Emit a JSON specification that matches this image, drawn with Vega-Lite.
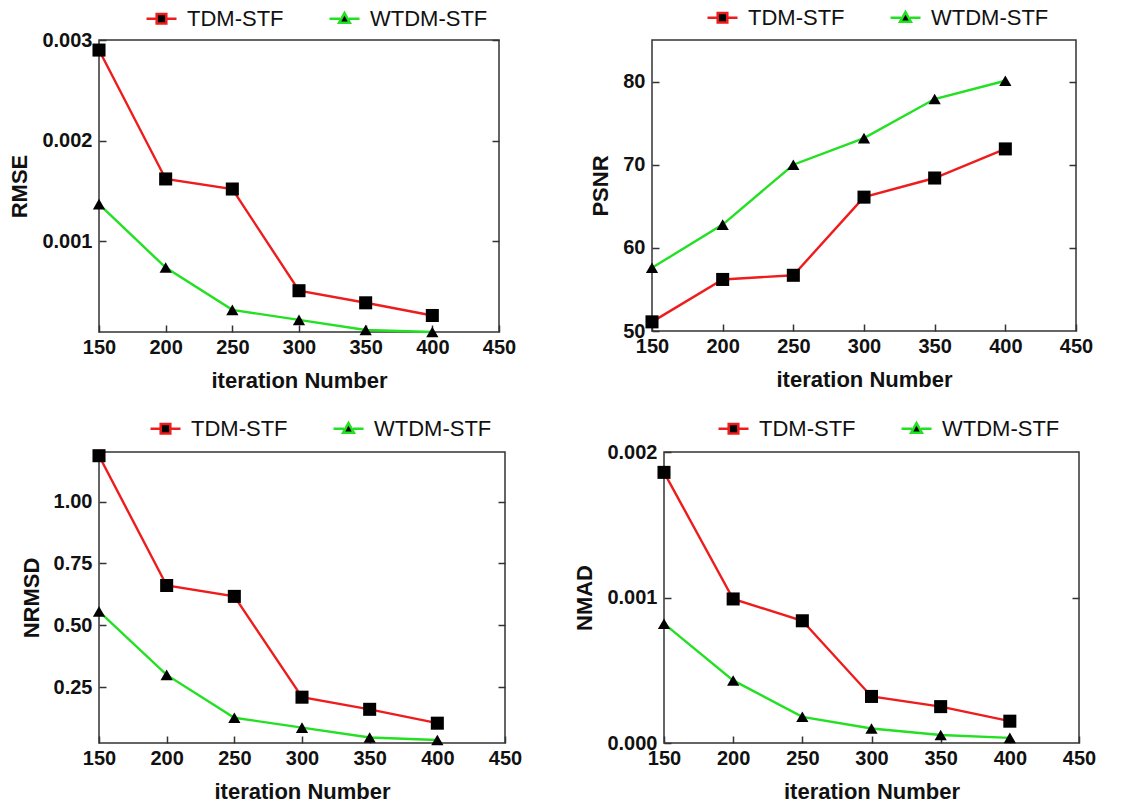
{
  "$schema": "https://vega.github.io/schema/vega-lite/v6.json",
  "padding": {"left": 8, "top": 0, "right": 2, "bottom": 2},
  "background": "white",
  "data": {"values": [
    {"metric": "RMSE", "iter": 150, "series": "TDM-STF", "value": 0.0029},
    {"metric": "RMSE", "iter": 200, "series": "TDM-STF", "value": 0.00162},
    {"metric": "RMSE", "iter": 250, "series": "TDM-STF", "value": 0.00152},
    {"metric": "RMSE", "iter": 300, "series": "TDM-STF", "value": 0.00051},
    {"metric": "RMSE", "iter": 350, "series": "TDM-STF", "value": 0.00039},
    {"metric": "RMSE", "iter": 400, "series": "TDM-STF", "value": 0.000264},
    {"metric": "RMSE", "iter": 150, "series": "WTDM-STF", "value": 0.00137},
    {"metric": "RMSE", "iter": 200, "series": "WTDM-STF", "value": 0.00074},
    {"metric": "RMSE", "iter": 250, "series": "WTDM-STF", "value": 0.00032},
    {"metric": "RMSE", "iter": 300, "series": "WTDM-STF", "value": 0.00022},
    {"metric": "RMSE", "iter": 350, "series": "WTDM-STF", "value": 0.00012},
    {"metric": "RMSE", "iter": 400, "series": "WTDM-STF", "value": 0.0001},
    {"metric": "PSNR", "iter": 150, "series": "TDM-STF", "value": 51.1},
    {"metric": "PSNR", "iter": 200, "series": "TDM-STF", "value": 56.2},
    {"metric": "PSNR", "iter": 250, "series": "TDM-STF", "value": 56.7},
    {"metric": "PSNR", "iter": 300, "series": "TDM-STF", "value": 66.1},
    {"metric": "PSNR", "iter": 350, "series": "TDM-STF", "value": 68.4},
    {"metric": "PSNR", "iter": 400, "series": "TDM-STF", "value": 71.9},
    {"metric": "PSNR", "iter": 150, "series": "WTDM-STF", "value": 57.6},
    {"metric": "PSNR", "iter": 200, "series": "WTDM-STF", "value": 62.8},
    {"metric": "PSNR", "iter": 250, "series": "WTDM-STF", "value": 70.0},
    {"metric": "PSNR", "iter": 300, "series": "WTDM-STF", "value": 73.2},
    {"metric": "PSNR", "iter": 350, "series": "WTDM-STF", "value": 77.9},
    {"metric": "PSNR", "iter": 400, "series": "WTDM-STF", "value": 80.1},
    {"metric": "NRMSD", "iter": 150, "series": "TDM-STF", "value": 1.185},
    {"metric": "NRMSD", "iter": 200, "series": "TDM-STF", "value": 0.661},
    {"metric": "NRMSD", "iter": 250, "series": "TDM-STF", "value": 0.617},
    {"metric": "NRMSD", "iter": 300, "series": "TDM-STF", "value": 0.21},
    {"metric": "NRMSD", "iter": 350, "series": "TDM-STF", "value": 0.161},
    {"metric": "NRMSD", "iter": 400, "series": "TDM-STF", "value": 0.105},
    {"metric": "NRMSD", "iter": 150, "series": "WTDM-STF", "value": 0.556},
    {"metric": "NRMSD", "iter": 200, "series": "WTDM-STF", "value": 0.30},
    {"metric": "NRMSD", "iter": 250, "series": "WTDM-STF", "value": 0.127},
    {"metric": "NRMSD", "iter": 300, "series": "WTDM-STF", "value": 0.087},
    {"metric": "NRMSD", "iter": 350, "series": "WTDM-STF", "value": 0.047},
    {"metric": "NRMSD", "iter": 400, "series": "WTDM-STF", "value": 0.037},
    {"metric": "NMAD", "iter": 150, "series": "TDM-STF", "value": 0.00186},
    {"metric": "NMAD", "iter": 200, "series": "TDM-STF", "value": 0.00099},
    {"metric": "NMAD", "iter": 250, "series": "TDM-STF", "value": 0.00084},
    {"metric": "NMAD", "iter": 300, "series": "TDM-STF", "value": 0.00032},
    {"metric": "NMAD", "iter": 350, "series": "TDM-STF", "value": 0.00025},
    {"metric": "NMAD", "iter": 400, "series": "TDM-STF", "value": 0.00015},
    {"metric": "NMAD", "iter": 150, "series": "WTDM-STF", "value": 0.00082},
    {"metric": "NMAD", "iter": 200, "series": "WTDM-STF", "value": 0.00043},
    {"metric": "NMAD", "iter": 250, "series": "WTDM-STF", "value": 0.00018},
    {"metric": "NMAD", "iter": 300, "series": "WTDM-STF", "value": 0.0001},
    {"metric": "NMAD", "iter": 350, "series": "WTDM-STF", "value": 0.000055},
    {"metric": "NMAD", "iter": 400, "series": "WTDM-STF", "value": 0.000035}
  ]},
  "config": {
    "font": "Liberation Sans",
    "view": {"stroke": "#333333", "strokeWidth": 1.5},
    "axis": {
      "domain": false, "grid": false,
      "labelFont": "Liberation Sans", "labelFontSize": 20, "labelFontWeight": "bold", "labelColor": "#111111",
      "titleFont": "Liberation Sans", "titleFontSize": 22, "titleFontWeight": "bold", "titleColor": "#111111",
      "tickColor": "#333333", "tickWidth": 1.5, "tickSize": -7,
      "labelFlush": false, "labelOverlap": false
    },
    "axisX": {"labelPadding": 12, "titlePadding": 13},
    "axisY": {"labelPadding": 14, "titlePadding": 10},
    "legend": {
      "orient": "none", "direction": "horizontal", "title": null,
      "symbolSize": 900, "labelFont": "Liberation Sans", "labelFontSize": 22, "labelColor": "#111111",
      "labelOffset": 9, "columnPadding": 40, "padding": 0
    }
  },
  "spacing": 19,
  "resolve": {"legend": {"color": "independent"}, "scale": {"y": "independent"}},
  "vconcat": [
    {
      "spacing": 72,
      "resolve": {"legend": {"color": "independent"}, "scale": {"y": "independent"}},
      "hconcat": [
        {
          "width": 400, "height": 292,
          "transform": [{"filter": "datum.metric === 'RMSE'"}],
          "resolve": {"axis": {"y": "independent"}},
          "encoding": {
            "x": {"field": "iter", "type": "quantitative", "scale": {"domain": [150, 450], "nice": false, "zero": false}, "axis": {"values": [150, 200, 250, 300, 350, 400, 450], "title": "iteration Number"}},
            "y": {"field": "value", "type": "quantitative", "scale": {"domain": [0.0001, 0.003], "nice": false, "zero": false}, "axis": {"values": [0.001, 0.002, 0.003], "format": ".3f", "title": "RMSE"}}
          },
          "layer": [
            {"mark": {"type": "line", "strokeWidth": 2.4}, "encoding": {"color": {"field": "series", "type": "nominal", "scale": {"domain": ["TDM-STF", "WTDM-STF"], "range": ["#ee1c1c", "#22e022"]}, "legend": {"legendX": 46, "legendY": -38, "encode": {"symbols": {"update": {"shape": [{"test": "datum.value === 'TDM-STF'", "value": "M-1,0L-0.36,0M0.36,0L1,0M-0.32,-0.32L0.32,-0.32L0.32,0.32L-0.32,0.32Z"}, {"value": "M-1,0L-0.3,0M0.3,0L1,0M0,-0.38L0.36,0.27L-0.36,0.27Z"}], "fill": {"value": "black"}, "strokeWidth": {"value": 2.5}}}}}}}},
            {"transform": [{"filter": "datum.series === 'TDM-STF'"}], "mark": {"type": "point", "shape": "square", "filled": true, "color": "black", "opacity": 1, "size": 170}, "encoding": {"y": {"field": "value", "type": "quantitative", "axis": {"orient": "right", "values": [0.001, 0.002, 0.003], "labels": false, "title": null}}}},
            {"transform": [{"filter": "datum.series === 'WTDM-STF'"}], "mark": {"type": "point", "shape": "triangle-up", "filled": true, "color": "black", "opacity": 1, "size": 150}, "encoding": {"y": {"field": "value", "type": "quantitative", "axis": null}}}
          ]
        },
        {
          "width": 424, "height": 291,
          "transform": [{"filter": "datum.metric === 'PSNR'"}],
          "resolve": {"axis": {"y": "independent"}},
          "encoding": {
            "x": {"field": "iter", "type": "quantitative", "scale": {"domain": [150, 450], "nice": false, "zero": false}, "axis": {"values": [150, 200, 250, 300, 350, 400, 450], "title": "iteration Number"}},
            "y": {"field": "value", "type": "quantitative", "scale": {"domain": [50, 85], "nice": false, "zero": false}, "axis": {"values": [50, 60, 70, 80], "title": "PSNR"}}
          },
          "layer": [
            {"mark": {"type": "line", "strokeWidth": 2.4}, "encoding": {"color": {"field": "series", "type": "nominal", "scale": {"domain": ["TDM-STF", "WTDM-STF"], "range": ["#ee1c1c", "#22e022"]}, "legend": {"legendX": 54, "legendY": -39, "encode": {"symbols": {"update": {"shape": [{"test": "datum.value === 'TDM-STF'", "value": "M-1,0L-0.36,0M0.36,0L1,0M-0.32,-0.32L0.32,-0.32L0.32,0.32L-0.32,0.32Z"}, {"value": "M-1,0L-0.3,0M0.3,0L1,0M0,-0.38L0.36,0.27L-0.36,0.27Z"}], "fill": {"value": "black"}, "strokeWidth": {"value": 2.5}}}}}}}},
            {"transform": [{"filter": "datum.series === 'TDM-STF'"}], "mark": {"type": "point", "shape": "square", "filled": true, "color": "black", "opacity": 1, "size": 170}, "encoding": {"y": {"field": "value", "type": "quantitative", "axis": {"orient": "right", "values": [60, 70, 80], "labels": false, "title": null}}}},
            {"transform": [{"filter": "datum.series === 'WTDM-STF'"}], "mark": {"type": "point", "shape": "triangle-up", "filled": true, "color": "black", "opacity": 1, "size": 150}, "encoding": {"y": {"field": "value", "type": "quantitative", "axis": null}}}
          ]
        }
      ]
    },
    {
      "spacing": 50,
      "resolve": {"legend": {"color": "independent"}, "scale": {"y": "independent"}},
      "hconcat": [
        {
          "width": 406, "height": 291,
          "transform": [{"filter": "datum.metric === 'NRMSD'"}],
          "resolve": {"axis": {"y": "independent"}},
          "encoding": {
            "x": {"field": "iter", "type": "quantitative", "scale": {"domain": [150, 450], "nice": false, "zero": false}, "axis": {"values": [150, 200, 250, 300, 350, 400, 450], "title": "iteration Number"}},
            "y": {"field": "value", "type": "quantitative", "scale": {"domain": [0.025, 1.2], "nice": false, "zero": false}, "axis": {"values": [0.25, 0.5, 0.75, 1.0], "format": ".2f", "title": "NRMSD"}}
          },
          "layer": [
            {"mark": {"type": "line", "strokeWidth": 2.4}, "encoding": {"color": {"field": "series", "type": "nominal", "scale": {"domain": ["TDM-STF", "WTDM-STF"], "range": ["#ee1c1c", "#22e022"]}, "legend": {"legendX": 50, "legendY": -40, "encode": {"symbols": {"update": {"shape": [{"test": "datum.value === 'TDM-STF'", "value": "M-1,0L-0.36,0M0.36,0L1,0M-0.32,-0.32L0.32,-0.32L0.32,0.32L-0.32,0.32Z"}, {"value": "M-1,0L-0.3,0M0.3,0L1,0M0,-0.38L0.36,0.27L-0.36,0.27Z"}], "fill": {"value": "black"}, "strokeWidth": {"value": 2.5}}}}}}}},
            {"transform": [{"filter": "datum.series === 'TDM-STF'"}], "mark": {"type": "point", "shape": "square", "filled": true, "color": "black", "opacity": 1, "size": 170}, "encoding": {"y": {"field": "value", "type": "quantitative", "axis": {"orient": "right", "values": [0.25, 0.5, 0.75, 1.0], "labels": false, "title": null}}}},
            {"transform": [{"filter": "datum.series === 'WTDM-STF'"}], "mark": {"type": "point", "shape": "triangle-up", "filled": true, "color": "black", "opacity": 1, "size": 150}, "encoding": {"y": {"field": "value", "type": "quantitative", "axis": null}}}
          ]
        },
        {
          "width": 415, "height": 291,
          "transform": [{"filter": "datum.metric === 'NMAD'"}],
          "resolve": {"axis": {"y": "independent"}},
          "encoding": {
            "x": {"field": "iter", "type": "quantitative", "scale": {"domain": [150, 450], "nice": false, "zero": false}, "axis": {"values": [150, 200, 250, 300, 350, 400, 450], "title": "iteration Number"}},
            "y": {"field": "value", "type": "quantitative", "scale": {"domain": [0, 0.002], "nice": false, "zero": false}, "axis": {"values": [0, 0.001, 0.002], "format": ".3f", "title": "NMAD"}}
          },
          "layer": [
            {"mark": {"type": "line", "strokeWidth": 2.4}, "encoding": {"color": {"field": "series", "type": "nominal", "scale": {"domain": ["TDM-STF", "WTDM-STF"], "range": ["#ee1c1c", "#22e022"]}, "legend": {"legendX": 53, "legendY": -40, "encode": {"symbols": {"update": {"shape": [{"test": "datum.value === 'TDM-STF'", "value": "M-1,0L-0.36,0M0.36,0L1,0M-0.32,-0.32L0.32,-0.32L0.32,0.32L-0.32,0.32Z"}, {"value": "M-1,0L-0.3,0M0.3,0L1,0M0,-0.38L0.36,0.27L-0.36,0.27Z"}], "fill": {"value": "black"}, "strokeWidth": {"value": 2.5}}}}}}}},
            {"transform": [{"filter": "datum.series === 'TDM-STF'"}], "mark": {"type": "point", "shape": "square", "filled": true, "color": "black", "opacity": 1, "size": 170}, "encoding": {"y": {"field": "value", "type": "quantitative", "axis": {"orient": "right", "values": [0.001], "labels": false, "title": null}}}},
            {"transform": [{"filter": "datum.series === 'WTDM-STF'"}], "mark": {"type": "point", "shape": "triangle-up", "filled": true, "color": "black", "opacity": 1, "size": 150}, "encoding": {"y": {"field": "value", "type": "quantitative", "axis": null}}}
          ]
        }
      ]
    }
  ]
}
